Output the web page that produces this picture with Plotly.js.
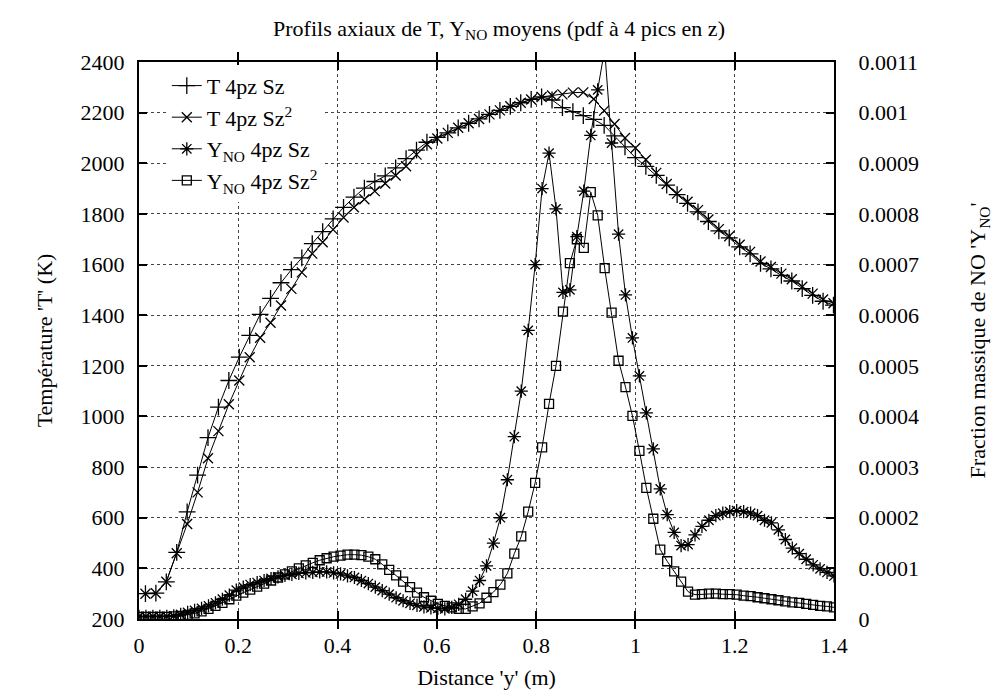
<!DOCTYPE html>
<html><head><meta charset="utf-8">
<script src="https://cdn.plot.ly/plotly-3.0.1.min.js"></script>
<style>html,body{margin:0;padding:0;background:#fff}#chart{width:998px;height:695px}</style>
</head><body><div id="chart"></div>
<script>
// Temperature grid (m)
const xT = [0.013,0.034,0.055,0.076,0.097,0.118,0.139,0.160,0.181,0.202,0.223,0.244,0.265,0.286,0.307,0.328,0.349,0.370,0.391,0.412,0.433,0.454,0.475,0.496,0.517,0.538,0.559,0.580,0.601,0.622,0.643,0.664,0.685,0.706,0.727,0.748,0.769,0.790,0.811,0.832,0.853,0.874,0.895,0.916,0.937,0.958,0.979,1.000,1.021,1.042,1.063,1.084,1.105,1.126,1.147,1.168,1.189,1.210,1.231,1.252,1.273,1.294,1.315,1.336,1.357,1.378,1.399];
const T_Sz = [300,302,347,463,623,768,916,1037,1142,1234,1320,1403,1466,1528,1580,1626,1683,1730,1780,1826,1866,1902,1928,1950,1982,2018,2052,2083,2102,2120,2140,2158,2175,2193,2209,2225,2239,2252,2262,2250,2220,2204,2188,2173,2150,2108,2065,2022,1988,1952,1914,1876,1842,1808,1770,1733,1705,1670,1642,1605,1583,1557,1535,1505,1478,1455,1440];
const T_Sz2 = [300,302,347,460,575,700,835,942,1048,1142,1234,1311,1370,1438,1504,1569,1643,1688,1738,1786,1826,1858,1890,1920,1952,1988,2034,2075,2098,2120,2140,2158,2175,2193,2209,2225,2239,2252,2262,2268,2272,2279,2280,2254,2208,2155,2100,2060,2014,1962,1918,1880,1848,1815,1778,1740,1712,1678,1650,1612,1590,1564,1542,1512,1485,1462,1447];
// NO mass fraction grid (m)
const xNO = [0.000,0.014,0.028,0.042,0.056,0.070,0.084,0.098,0.112,0.126,0.140,0.154,0.168,0.182,0.196,0.210,0.224,0.238,0.252,0.266,0.280,0.294,0.308,0.322,0.336,0.350,0.364,0.378,0.392,0.406,0.420,0.434,0.448,0.462,0.476,0.490,0.504,0.518,0.532,0.546,0.560,0.574,0.588,0.602,0.616,0.630,0.644,0.658,0.672,0.686,0.700,0.714,0.728,0.742,0.756,0.770,0.784,0.798,0.812,0.826,0.840,0.854,0.868,0.882,0.896,0.910,0.924,0.938,0.952,0.966,0.980,0.994,1.008,1.022,1.036,1.050,1.064,1.078,1.092,1.106,1.120,1.134,1.148,1.162,1.176,1.190,1.204,1.218,1.232,1.246,1.260,1.274,1.288,1.302,1.316,1.330,1.344,1.358,1.372,1.386,1.400];
const YNO_Sz = [5e-6,5e-6,5e-6,5e-6,5e-6,6e-6,9e-6,1.3e-5,1.7e-5,2.1e-5,2.6e-5,3.2e-5,3.9e-5,4.7e-5,5.7e-5,6.3e-5,6.8e-5,7.2e-5,7.6e-5,8.0e-5,8.3e-5,8.6e-5,8.8e-5,9.0e-5,9.1e-5,9.2e-5,9.3e-5,9.3e-5,9.1e-5,8.9e-5,8.5e-5,8.2e-5,7.6e-5,7.0e-5,6.3e-5,5.6e-5,4.9e-5,4.2e-5,3.6e-5,3.1e-5,2.7e-5,2.4e-5,2.2e-5,2.1e-5,2.0e-5,2.3e-5,2.9e-5,3.9e-5,5.5e-5,7.6e-5,1.05e-4,1.5e-4,2.0e-4,2.75e-4,3.6e-4,4.5e-4,5.7e-4,7.0e-4,8.5e-4,9.2e-4,8.1e-4,6.45e-4,6.5e-4,7.55e-4,8.45e-4,9.55e-4,1.045e-3,1.125e-3,9.4e-4,7.6e-4,6.4e-4,5.55e-4,4.8e-4,4.07e-4,3.36e-4,2.57e-4,2.06e-4,1.71e-4,1.45e-4,1.47e-4,1.66e-4,1.83e-4,1.95e-4,2.04e-4,2.09e-4,2.12e-4,2.14e-4,2.12e-4,2.09e-4,2.04e-4,1.95e-4,1.9e-4,1.76e-4,1.57e-4,1.40e-4,1.29e-4,1.18e-4,1.07e-4,9.9e-5,9.2e-5,8.5e-5];
const YNO_Sz2 = [4e-6,4e-6,4e-6,4e-6,4e-6,5e-6,6e-6,8e-6,1.1e-5,1.5e-5,2.0e-5,2.6e-5,3.2e-5,3.9e-5,4.6e-5,5.2e-5,5.8e-5,6.4e-5,7.0e-5,7.6e-5,8.2e-5,8.8e-5,9.4e-5,1.0e-4,1.06e-4,1.11e-4,1.16e-4,1.20e-4,1.23e-4,1.25e-4,1.27e-4,1.27e-4,1.26e-4,1.23e-4,1.18e-4,1.08e-4,9.7e-5,8.6e-5,7.4e-5,6.3e-5,5.2e-5,4.3e-5,3.6e-5,3.0e-5,2.6e-5,2.3e-5,2.0e-5,2.0e-5,2.5e-5,3.1e-5,4.2e-5,5.3e-5,6.8e-5,9.0e-5,1.29e-4,1.63e-4,2.12e-4,2.69e-4,3.39e-4,4.25e-4,5.0e-4,6.07e-4,7.03e-4,7.5e-4,7.33e-4,8.43e-4,7.97e-4,6.93e-4,6.05e-4,5.1e-4,4.58e-4,4.01e-4,3.32e-4,2.59e-4,1.98e-4,1.37e-4,1.14e-4,9.4e-5,7.4e-5,5.4e-5,4.8e-5,4.9e-5,5.0e-5,5.0e-5,4.9e-5,4.9e-5,4.8e-5,4.6e-5,4.5e-5,4.3e-5,4.1e-5,3.9e-5,3.7e-5,3.5e-5,3.3e-5,3.2e-5,3.0e-5,2.8e-5,2.6e-5,2.5e-5,2.3e-5];
// Tick labels
const xTicks = [0,0.2,0.4,0.6,0.8,1.0,1.2,1.4];
const xTickText = ['0','0.2','0.4','0.6','0.8','1','1.2','1.4'];
const yTicks = [200,400,600,800,1000,1200,1400,1600,1800,2000,2200,2400];
const yTickText = ['200','400','600','800','1000','1200','1400','1600','1800','2000','2200','2400'];
const y2Ticks = [0,0.0001,0.0002,0.0003,0.0004,0.0005,0.0006,0.0007,0.0008,0.0009,0.001,0.0011];
const y2TickText = ['0','0.0001','0.0002','0.0003','0.0004','0.0005','0.0006','0.0007','0.0008','0.0009','0.001','0.0011'];
const names = ['T 4pz Sz','T 4pz Sz<sup>2</sup>','Y<sub>NO</sub> 4pz Sz','Y<sub>NO</sub> 4pz Sz<sup>2</sup>'];

const FONT = 'Liberation Serif, Times New Roman, serif';
const FS = 22;
const line = {color:'#000', width:1};
const traces = [
  {x:xT, y:T_Sz, name:names[0], mode:'lines+markers', line:line,
   marker:{symbol:'cross-thin-open', size:12, color:'#000', line:{color:'#000', width:1.3}}},
  {x:xT, y:T_Sz2, name:names[1], mode:'lines+markers', line:line,
   marker:{symbol:'x-thin-open', size:10, color:'#000', line:{color:'#000', width:1.3}}},
  {x:xNO, y:YNO_Sz, name:names[2], yaxis:'y2', mode:'lines+markers', line:line,
   marker:{symbol:'asterisk-open', size:11, color:'#000', line:{color:'#000', width:1.3}}},
  {x:xNO, y:YNO_Sz2, name:names[3], yaxis:'y2', mode:'lines+markers', line:line,
   marker:{symbol:'square-open', size:9, color:'#000', line:{color:'#000', width:1.3}}}
];
const axisCommon = {showline:true, linecolor:'#000', linewidth:2, ticks:'inside', ticklen:8,
  tickwidth:1.5, tickcolor:'#000', zeroline:false, tickfont:{family:FONT, size:FS, color:'#000'}};
const layout = {
  width:998, height:695, paper_bgcolor:'#fff', plot_bgcolor:'#fff',
  font:{family:FONT, size:FS, color:'#000'},
  margin:{l:139, r:164, t:62, b:76},
  title:{text:'Profils axiaux de T, Y<sub>NO</sub> moyens (pdf à 4 pics en z)', x:0.5, xanchor:'center', y:0.96, yanchor:'middle', font:{family:FONT, size:FS, color:'#000'}},
  xaxis:Object.assign({}, axisCommon, {range:[0,1.4], tickmode:'array', tickvals:xTicks, ticktext:xTickText, mirror:'allticks',
    showgrid:true, gridcolor:'#444', gridwidth:1, griddash:'dot', ticklabelstandoff:6,
    title:{text:"Distance 'y' (m)", standoff:12, font:{family:FONT, size:FS}}}),
  yaxis:Object.assign({}, axisCommon, {range:[200,2400], tickmode:'array', tickvals:yTicks, ticktext:yTickText, mirror:true,
    showgrid:true, gridcolor:'#444', gridwidth:1, griddash:'dot', ticklabelstandoff:8,
    title:{text:"Température 'T' (K)", standoff:22, font:{family:FONT, size:FS}}}),
  yaxis2:Object.assign({}, axisCommon, {range:[0,0.0011], tickmode:'array', tickvals:y2Ticks, ticktext:y2TickText, overlaying:'y', side:'right',
    showgrid:false, ticklabelstandoff:18,
    title:{text:"Fraction massique de NO 'Y<sub>NO</sub>'", standoff:52, font:{family:FONT, size:FS}}}),
  showlegend:true,
  legend:{x:0.04, y:0.995, xanchor:'left', yanchor:'top', bgcolor:'#fff', borderwidth:0,
    font:{family:FONT, size:FS, color:'#000'}, tracegroupgap:0}
};
Plotly.newPlot('chart', traces, layout, {displayModeBar:false});
</script></body></html>
